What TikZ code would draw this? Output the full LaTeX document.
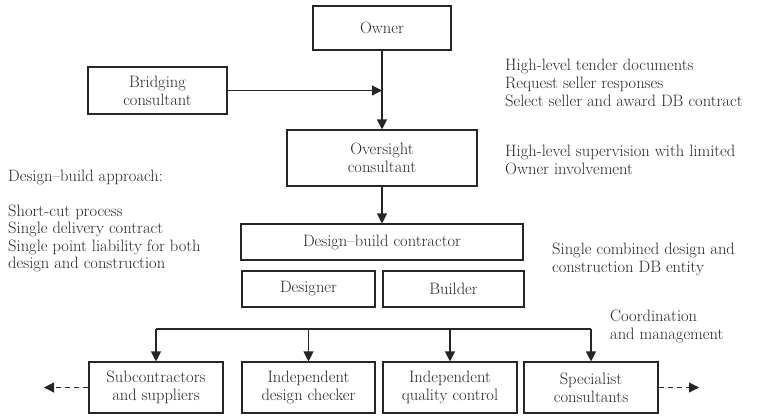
\documentclass[tikz,border=0pt]{standalone}
\usetikzlibrary{arrows.meta}
\begin{document}
\begin{tikzpicture}[x=1pt,y=-1pt,
  every node/.style={font=\fontsize{16.5}{18}\selectfont, text=black!85},
  box/.style={draw=black!85, line width=1.1pt, inner sep=0pt, align=center},
  note/.style={align=left, inner sep=0pt, anchor=west},
  wire/.style={draw=black!85, line width=1.1pt},
  link/.style={wire, -{Triangle[length=10pt,width=10pt]}},
  dashlink/.style={link, dash pattern=on 5pt off 4pt}]
\useasboundingbox (0,0) rectangle (768,416);

% upper chain
\node[box, minimum width=138pt, minimum height=44pt] (owner) at (382,28) {Owner};
\node[box, minimum width=139pt, minimum height=47pt] (bridge) at (157.5,90.5) {Bridging\\consultant};
\node[box, minimum width=190pt, minimum height=56pt] (over) at (382,158) {Oversight\\consultant};
\node[box, minimum width=282pt, minimum height=36pt] (dbc) at (382,242) {Design\textendash build contractor};
\node[box, minimum width=133pt, minimum height=36pt] (designer) at (308.5,289) {Designer};
\node[box, minimum width=141pt, minimum height=36pt] (builder) at (453.5,289) {Builder};

% lower row
\node[box, minimum width=134pt, minimum height=51pt] (sub) at (156,387.5) {Subcontractors\\and suppliers};
\node[box, minimum width=133pt, minimum height=51pt] (check) at (308.5,387.5) {Independent\\design checker};
\node[box, minimum width=134pt, minimum height=51pt] (qual) at (450,387.5) {Independent\\quality control};
\node[box, minimum width=134pt, minimum height=51pt] (spec) at (591,387.5) {Specialist\\consultants};

% side notes
\node[note] (tender) at (505,83) {High-level tender documents\\Request seller responses\\Select seller and award DB contract};
\node[note] (superv) at (505,159.5) {High-level supervision with limited\\Owner involvement};
\node[note, font=\fontsize{16.5}{17.5}\selectfont] (approach) at (8,220.75) {Design\textendash build approach:\\[17.5pt]Short-cut process\\Single delivery contract\\Single point liability for both\\design and construction};
\node[note] (entity) at (552,259) {Single combined design and\\construction DB entity};
\node[note] (coord) at (610,326.5) {Coordination\\and management};

% connectors
\draw[link] (owner) -- (over);
\draw[link] (bridge.east) -- (owner.south |- bridge.east);
\draw[link] (over) -- (dbc);

\coordinate (bus) at (0,329);
\draw[wire] (sub.north |- bus) -- (spec.north |- bus);
\foreach \b in {sub,check,qual,spec}
  \draw[link] (\b.north |- bus) -- (\b.north);

\coordinate (leftend) at (44,387.5);
\coordinate (rightend) at (699,387.5);
\draw[dashlink] (sub.west) -- (leftend);
\draw[dashlink] (spec.east) -- (rightend);
\end{tikzpicture}
\end{document}
